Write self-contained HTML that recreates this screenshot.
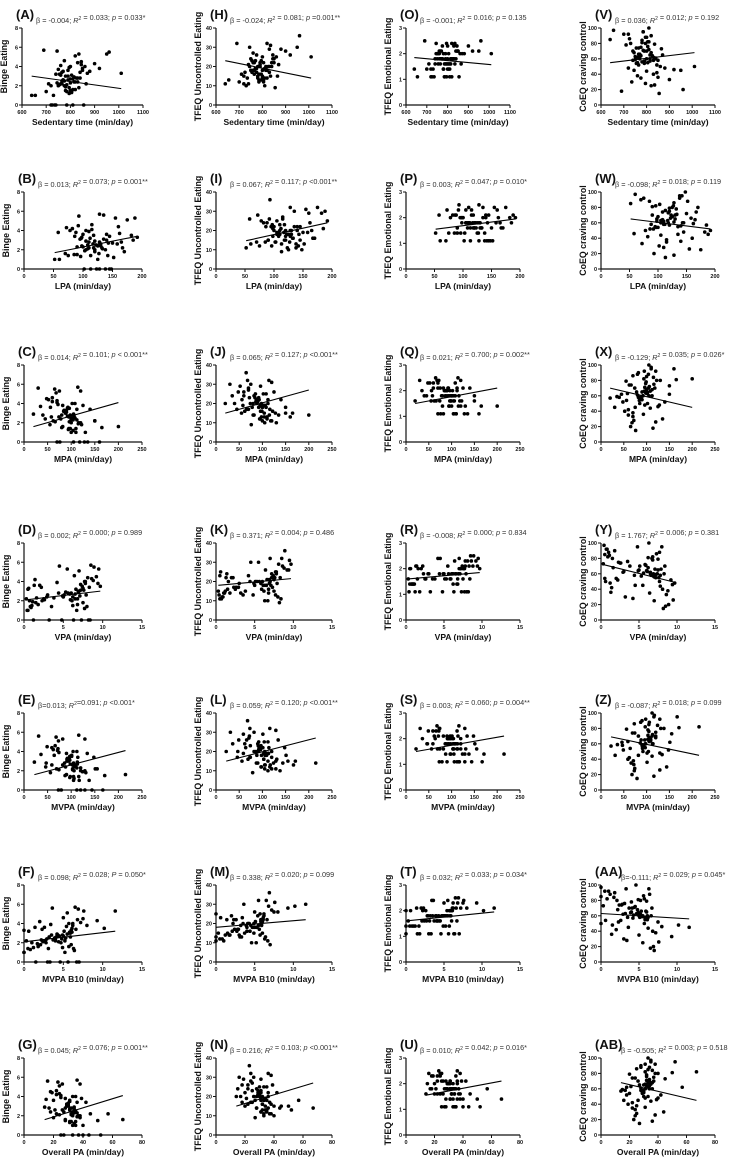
<!DOCTYPE html>
<html><head><meta charset="utf-8">
<style>
html,body{margin:0;padding:0;background:#fff;}
svg{display:block;font-family:"Liberation Sans",Arial,sans-serif;}
</style></head>
<body>
<svg id="fig" width="730" height="1168" viewBox="0 0 730 1168" xmlns="http://www.w3.org/2000/svg"></svg>
<script>
// ---- participant data (x variables) ----
const sedentary=[760,805,640,790,720,850,775,830,700,815,745,870,795,760,655,820,780,735,845,810,770,800,690,825,755,860,785,740,835,805,950,765,790,710,820,840,775,880,800,725,1010,750,815,785,845,770,795,730,830,760,865,810,900,780,750,840,805,960,720,790,775,835,765,800,855,745,820,785,920,770,810,755,795,830,740,850,780,815,800,765];
const lpa=[110,95,52,130,145,88,120,160,75,105,135,98,170,115,60,125,140,102,92,150,118,85,128,165,108,78,138,112,155,96,188,122,100,132,70,145,115,182,90,128,192,105,120,142,82,158,110,125,98,135,118,148,72,103,162,128,113,93,138,185,108,120,86,143,113,100,175,133,58,117,127,97,152,110,123,140,90,130,105,167];
const mpa=[150,87,100,74,128,82,116,52,95,105,30,90,122,70,110,100,88,135,48,106,92,80,114,98,66,102,160,86,120,94,75,108,56,99,82,112,60,96,104,70,85,100,20,110,60,95,72,130,45,90,150,105,70,115,35,80,98,65,120,88,102,55,140,92,76,112,68,96,125,58,200,84,104,40,118,93,165,78,108,62];
const vpa=[6.5,7.2,0.5,5.1,1.2,7.8,2.3,8.1,0.8,6.9,4.5,7.5,1.5,8.8,0.4,6.2,7.0,3.2,9.2,5.8,7.4,1.0,8.5,6.0,2.6,7.7,4.8,6.6,9.5,0.9,5.5,7.1,2.0,6.8,1.8,8.3,6.4,9.7,3.8,7.3,0.6,6.1,5.3,8.0,1.4,7.9,4.2,6.7,2.9,7.6,0.3,6.3,8.6,1.1,7.2,5.6,3.5,8.9,0.7,6.9,4.9,7.5,2.2,6.5,8.2,1.6,7.0,5.9,9.4,3.0,6.8,0.5,7.7,4.4,8.4,1.3,6.2,5.0,7.8,2.5];
const mvpa=[151,93,105,82,129,90,120,59,98,113,31,96,131,71,117,106,91,144,49,113,97,87,116,105,74,104,167,92,129,97,82,109,64,103,90,114,66,101,112,73,92,106,22,116,62,103,74,138,46,97,155,112,72,124,36,86,105,68,129,94,109,56,148,98,79,120,73,103,134,59,215,91,106,47,120,101,171,88,112,69];
const mvpaB10=[5.2,5.8,0,4.1,1.5,6.2,2.8,6.8,0.5,5.5,3.6,6.0,2.1,7.2,0,4.8,5.9,3.0,7.5,4.5,6.1,1.2,6.5,4.9,2.4,5.7,3.3,5.1,7.6,0.8,11.6,5.3,2.6,4.0,1.8,6.6,5.0,10.2,3.7,5.6,0,4.7,4.2,6.3,2.0,5.9,3.4,5.2,2.9,6.1,0.3,4.6,9.3,1.7,5.4,4.3,3.1,6.9,1.0,5.8,3.9,6.0,2.3,5.0,7.0,2.2,5.5,4.4,8.0,3.2,5.7,0.6,6.4,3.5,6.7,1.4,4.9,4.0,6.2,2.7];
const overallPA=[57,29,33,26,40,28,37,19,31,34,16,30,38,25,35,33,30,44,18,34,31,28,36,32,24,33,52,29,38,31,26,35,20,32,28,36,22,31,34,25,30,33,14,35,22,31,25,40,18,30,45,33,24,36,15,28,32,23,38,29,34,20,42,31,27,36,24,32,39,21,67,29,34,17,37,31,50,27,35,22];
// ---- participant data (y variables) ----
const binge=[2.2,3.1,1.0,2.6,0,3.8,2.0,4.4,1.4,2.9,5.6,3.3,1.8,4.1,1.0,2.4,3.0,0,4.5,2.7,3.5,1.5,5.7,2.8,2.1,4.0,0,3.2,5.3,1.3,5.3,2.5,3.6,2.2,1.6,3.4,4.6,3.5,2.3,0,3.3,2.0,2.9,1.4,4.2,2.6,3.9,1.0,2.4,3.1,2.2,0,4.3,1.9,3.7,2.8,1.4,5.5,2.0,3.0,2.5,1.8,3.4,2.7,0,2.3,5.1,2.1,3.8,2.6,1.6,3.2,1.2,2.8,0,3.6,1.5,2.4,4.0,2.2];
const uncontrolled=[18,22,11,20,15,24,17,29,12,19,30,21,16,27,13,18,20,14,26,19,23,14,32,20,17,25,13,21,31,12,30,18,22,16,14,22,26,29,15,17,25,18,20,12,24,19,23,10,17,22,15,10,28,14,24,20,13,36,11,21,19,15,22,18,9,20,32,16,26,19,14,23,13,20,11,22,15,18,25,16];
const emotional=[1.8,2.0,1.4,1.6,1.1,2.1,1.8,2.3,1.4,1.8,2.4,2.0,1.6,2.1,1.1,1.8,2.0,1.1,2.3,1.6,2.1,1.4,2.5,1.8,1.6,2.0,1.1,1.8,2.4,1.4,2.1,1.8,2.0,1.6,1.1,2.1,2.3,2.0,1.6,1.1,2.0,1.8,1.6,1.1,2.1,1.8,2.4,1.4,1.8,2.0,1.6,1.1,2.3,1.4,2.0,1.8,1.6,2.5,1.4,1.8,1.8,1.6,2.1,1.8,1.1,2.0,2.4,1.6,2.1,1.8,1.4,2.0,1.1,1.8,1.6,2.1,1.4,1.8,2.3,1.6];
const craving=[62,55,85,70,48,58,75,40,92,60,45,65,80,38,97,68,56,30,52,72,60,88,18,64,74,50,95,58,26,82,45,66,54,78,90,60,35,48,70,86,50,63,57,95,42,66,28,80,62,55,73,100,33,84,59,61,76,20,92,57,64,79,52,60,15,68,25,71,46,63,82,54,88,58,70,36,81,65,44,74];
// ---- axis definitions ----
const xTitles=["Sedentary time (min/day)","LPA (min/day)","MPA (min/day)","VPA (min/day)","MVPA (min/day)","MVPA B10 (min/day)","Overall PA (min/day)"];
const xMin=[600,0,0,0,0,0,0];
const xMax=[1100,200,250,15,250,15,80];
const xStep=[100,50,50,5,50,5,20];
const yTitles=["Binge Eating","TFEQ Uncontrolled Eating","TFEQ Emotional Eating","CoEQ craving control"];
const yMax=[8,40,3,100];
const yStep=[2,10,1,20];
// ---- regression line values (y at min x, y at max x), ordered column by column ----
const lineStart=[3.0,1.7,1.6,2.1,1.6,2.1,1.6, 23,14.7,15,18,15,18,15, 1.85,1.55,1.5,1.6,1.5,1.6,1.55, 55,65,70,72,69,63,68];
const lineEnd  =[1.7,3.4,4.1,3.0,4.1,3.2,4.1, 14,24,27,21.5,27,22,27, 1.57,1.95,2.1,1.85,2.1,1.95,2.1, 68,52,45,49,45,56,45];
const letters=["A","B","C","D","E","F","G","H","I","J","K","L","M","N","O","P","Q","R","S","T","U","V","W","X","Y","Z","AA","AB"];
const stats=["β = -0.004; {R} = 0.033; {p} = 0.033*","β = 0.013; {R} = 0.073; {p} = 0.001**","β = 0.014; {R} = 0.101; {p} < 0.001**","β = 0.002; {R} = 0.000; {p} = 0.989","β=0.013; {R}=0.091; {p} <0.001*","β = 0.098; {R} = 0.028; {P} = 0.050*","β = 0.045; {R} = 0.076; {p} = 0.001**",
"β = -0.024; {R} = 0.081; {p} =0.001**","β = 0.067; {R} = 0.117; {p} <0.001**","β = 0.065; {R} = 0.127; {p} <0.001**","β = 0.371; {R} = 0.004; {p} = 0.486","β = 0.059; {R} = 0.120; {p} <0.001**","β = 0.338; {R} = 0.020; {p} = 0.099","β = 0.216; {R} = 0.103; {p} <0.001**",
"β = -0.001; {R} = 0.016; {p} = 0.135","β = 0.003; {R} = 0.047; {p} = 0.010*","β = 0.021; {R} = 0.700; {p} = 0.002**","β = -0.008; {R} = 0.000; {p} = 0.834","β = 0.003; {R} = 0.060; {p} = 0.004**","β = 0.032; {R} = 0.033; {p} = 0.034*","β = 0.010; {R} = 0.042; {p} = 0.016*",
"β = 0.036; {R} = 0.012; {p} = 0.192","β = -0.098; {R} = 0.018; {p} = 0.119","β = -0.129; {R} = 0.035; {p} = 0.026*","β = 1.767; {R} = 0.006; {p} = 0.381","β = -0.087; {R} = 0.018; {p} = 0.099","β=-0.111; {R} = 0.029; {p} = 0.045*","β = -0.505; {R} = 0.003; {p} = 0.518"];

const xData=[sedentary,lpa,mpa,vpa,mvpa,mvpaB10,overallPA];
const yData=[binge,uncontrolled,emotional,craving];

// layout
const rowTop=[28,192,365,543,713,885,1058];
const PH=77;
const colX=[24,216,406,601];
const colW=[118,116,114,114];

const NS="http://www.w3.org/2000/svg";
const svg=document.getElementById('fig');
function mk(tag,attrs,parent){const e=document.createElementNS(NS,tag);for(const k in attrs)e.setAttribute(k,attrs[k]);(parent||svg).appendChild(e);return e;}

for(let c=0;c<4;c++){
  for(let r=0;r<7;r++){
    const idx=c*7+r;
    const x0=(r===0&&c===0)?22:colX[c];
    const w=(r===0&&c===2)?104:((r===0&&c===0)?121:colW[c]);
    const top=rowTop[r], bot=top+PH;
    const xs=v=>x0+(v-xMin[r])/(xMax[r]-xMin[r])*w;
    const ys=v=>bot-v/yMax[c]*PH;
    const g=mk('g',{});
    
    
    const lt=mk('text',{x:x0-6,y:top-9,'font-size':13,'font-weight':'bold',fill:'#111'},g);
    lt.textContent='('+letters[idx]+')';
    
    
    const st=mk('text',{x:x0+14+(letters[idx].length-1)*6,y:top-5,'font-size':7.3,fill:'#333'},g);
    
    
    const parts=stats[idx].split(/(\{R\}|\{p\}|\{P\})/);
    parts.forEach(p=>{
      if(p==='{R}'){const a=mk('tspan',{'font-style':'italic'},st);a.textContent='R';const b=mk('tspan',{'font-size':5,dy:-3},st);b.textContent='2';const d=mk('tspan',{dy:3},st);d.textContent='';}
      else if(p==='{p}'||p==='{P}'){const a=mk('tspan',{'font-style':'italic'},st);a.textContent=p==='{p}'?'p':'P';}
      else if(p){const a=mk('tspan',{},st);a.textContent=p;}
    });
    const ax=mk('path',{d:`M${x0},${top}V${bot}H${x0+w}`,stroke:'#111','stroke-width':1.2,fill:'none'},g);
    
    
    for(let v=0;v<=yMax[c]+1e-9;v+=yStep[c]){
      mk('line',{x1:x0-3,x2:x0,y1:ys(v),y2:ys(v),stroke:'#111','stroke-width':1},g);
      const t=mk('text',{x:x0-4,y:ys(v)+2,'font-size':5.5,'font-weight':'bold','text-anchor':'end',fill:'#111'},g);
      t.textContent=v;
      
      
    }
    for(let v=xMin[r];v<=xMax[r]+1e-9;v+=xStep[r]){
      mk('line',{x1:xs(v),x2:xs(v),y1:bot,y2:bot+3,stroke:'#111','stroke-width':1},g);
      const t=mk('text',{x:xs(v),y:bot+9,'font-size':5.5,'font-weight':'bold','text-anchor':'middle',fill:'#111'},g);
      t.textContent=v;
      
      
    }
    const xt=mk('text',{x:x0+w/2,y:bot+20,'font-size':8.5,'font-weight':'bold','text-anchor':'middle',fill:'#111'},g);
    xt.textContent=xTitles[r];
    
    
    const yt=mk('text',{x:0,y:0,'font-size':8.8,'font-weight':'bold','text-anchor':'middle',fill:'#111',transform:`translate(${x0-15},${top+PH/2}) rotate(-90)`},g);
    yt.textContent=yTitles[c];
    
    
    const X=xData[r],Y=yData[c],n=Math.min(X.length,Y.length);
    for(let i=0;i<n;i++){
      const pt=mk('circle',{cx:xs(X[i]),cy:ys(Y[i]),r:1.8,fill:'#000'},g);
      
      
    }
    const lo=Math.min(...X),hi=Math.max(...X);
    const ln=mk('line',{x1:xs(lo),y1:ys(lineStart[idx]),x2:xs(hi),y2:ys(lineEnd[idx]),stroke:'#000','stroke-width':1.1},g);
    
    
  }
}
</script>
</body></html>
